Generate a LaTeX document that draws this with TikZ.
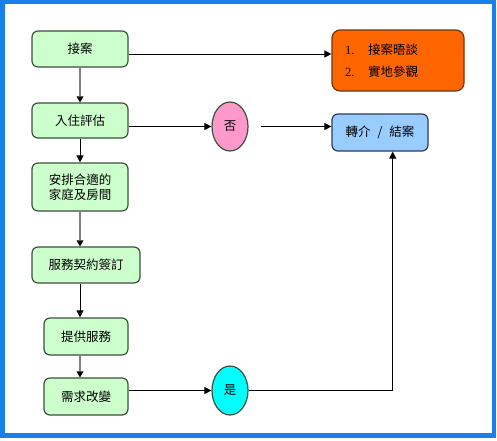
\documentclass[tikz,border=0pt]{standalone}
\usepackage{fontspec}
\setmainfont{Noto Sans CJK TC}
\newfontfamily\numfont{Liberation Serif}
\usetikzlibrary{arrows.meta,shapes.geometric}
\definecolor{framecol}{RGB}{25,128,235}
\definecolor{gfill}{RGB}{204,255,204}
\definecolor{gdraw}{RGB}{60,80,60}
\definecolor{ofill}{RGB}{255,102,0}
\definecolor{odraw}{RGB}{110,55,10}
\definecolor{bfill}{RGB}{153,204,255}
\definecolor{bdraw}{RGB}{45,60,90}
\definecolor{pfill}{RGB}{255,153,204}
\definecolor{cfill}{RGB}{0,255,255}
\definecolor{glin}{RGB}{128,128,128}
\tikzset{
  txt/.style={font=\fontsize{12.5}{15}\selectfont},
  gbox/.style={txt, draw=gdraw, fill=gfill, line width=1.2pt, rounded corners=6pt, align=center, inner sep=2pt},
  obox/.style={txt, draw=odraw, fill=ofill, line width=1.2pt, rounded corners=8pt, align=left},
  bbox/.style={txt, draw=bdraw, fill=bfill, line width=1.2pt, rounded corners=6pt, align=center},
  ell/.style={txt, ellipse, draw=gdraw, line width=1.2pt, minimum width=36pt, minimum height=49pt, inner sep=0pt},
  barrow/.style={draw=black, line width=1pt, -{Triangle[length=7pt,width=7pt]}},
  garrow/.style={glin, line width=2.2pt, -{Triangle[length=6pt,width=7pt,black,line width=0pt]}},
}
\begin{document}
\begin{tikzpicture}[x=1pt,y=-1pt]
\useasboundingbox (0,0) rectangle (497,440);
\fill[white] (0,0) rectangle (497,440);
\draw[framecol, line width=4.2pt] (2.5,2) rectangle (493.7,435.5);

\node[gbox, minimum width=96pt, minimum height=36pt] (a) at (80,49) {接案};
\node[gbox, minimum width=96pt, minimum height=35pt] (b) at (80,120.5) {入住評估};
\node[gbox, minimum width=96pt, minimum height=48pt] (c) at (80,187) {安排合適的\\家庭及房間};
\node[gbox, minimum width=108pt, minimum height=36pt] (d) at (86,265) {服務契約簽訂};
\node[gbox, minimum width=84pt, minimum height=37pt] (e) at (86,336.5) {提供服務};
\node[gbox, minimum width=84pt, minimum height=37pt] (f) at (86,396.5) {需求改變};

\node[ell, fill=pfill] (no) at (230,126.5) {否};
\node[ell, fill=cfill] (yes) at (230,390.5) {是};

\node[obox, minimum width=132pt, minimum height=61pt, text width=106pt, inner xsep=13pt] (org) at (398,60.5)
  {\makebox[23pt][l]{\numfont 1.}接案晤談\\[7pt]\makebox[23pt][l]{\numfont 2.}實地參觀};
\node[bbox, minimum width=96pt, minimum height=37pt] (ref) at (380,132.5) {轉介\hspace{7pt}/\hspace{7pt}結案};

\draw[garrow] (a.south) -- (b.north);
\draw[barrow] (b.south) -- (c.north);
\draw[garrow] (c.south) -- (c.south |- d.north);
\draw[barrow] (c.south |- d.south) -- (c.south |- e.north);
\draw[garrow] (c.south |- e.south) -- (c.south |- f.north);

\draw[barrow] ([yshift=-5pt]a.east) -- ([yshift=-5pt]a.east -| org.west);
\draw[barrow] (b.east |- no.west) -- (no.west);
\coordinate (nostart) at ([xshift=12pt]no.east);
\draw[barrow] (nostart) -- (nostart -| ref.west);
\draw[barrow] (f.east |- yes.west) -- (yes.west);
\draw[barrow] (yes.east) -| ([xshift=12.7pt]ref.south);
\end{tikzpicture}
\end{document}
